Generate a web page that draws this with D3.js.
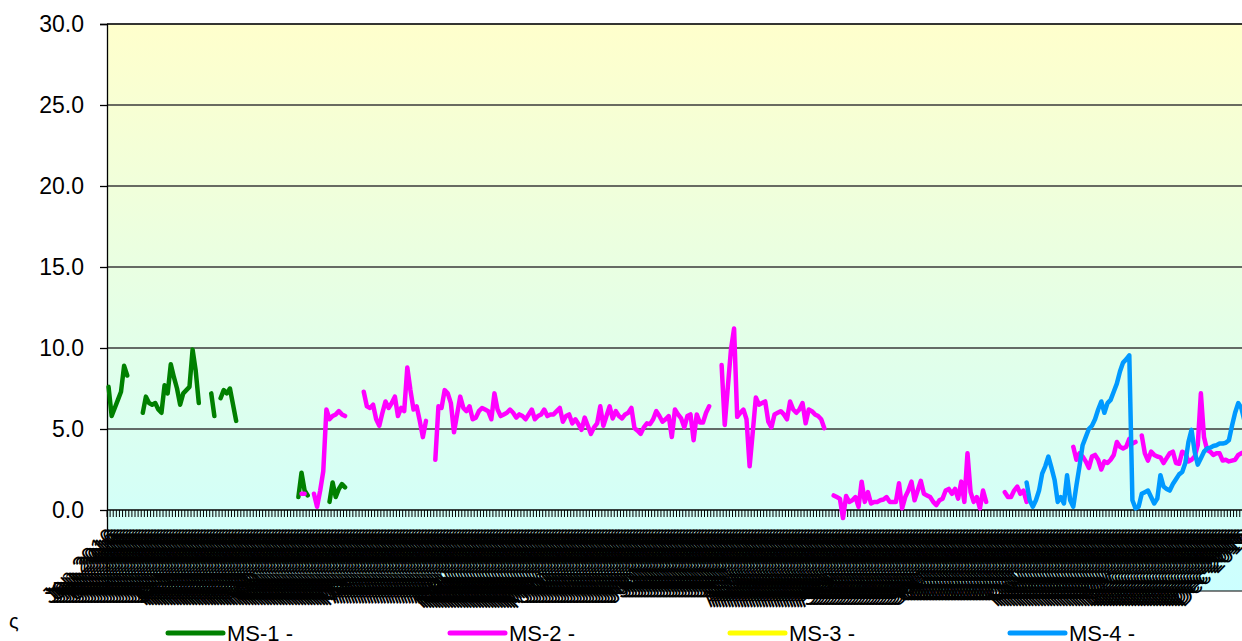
<!DOCTYPE html>
<html><head><meta charset="utf-8">
<script src="https://cdn.jsdelivr.net/npm/d3@7"></script>
<style>body{margin:0;background:#fff;overflow:hidden} svg{display:block} text{font-family:"Liberation Sans",Arial,sans-serif}</style>
</head><body><svg id="c" width="1242" height="641"></svg>
<script>
const _ = null;
const seriesNames = ["MS-1 -", "MS-2 -", "MS-3 -", "MS-4 -"];
const seriesColors = ["#008000", "#FF00FF", "#FFFF00", "#0099FF"];
const yTicks = [-5, 0, 5, 10, 15, 20, 25, 30];
const yTickLabels = ["-5.0", "0.0", "5.0", "10.0", "15.0", "20.0", "25.0", "30.0"];
const days = d3.timeDays(new Date(2016, 0, 1), new Date(2017, 0, 1));
const categories = days.map(d3.timeFormat("%Y-%m-%d"));
const tickLabels = days.map(d3.timeFormat("%b %Y"));

const ms1 = [7.6,5.8,6.3,6.8,7.3,8.9,8.3, _,_,_,_,
  6.0,7.0,6.6,6.5,6.6,6.2,6.0,7.7,7.2,9.0,8.2,7.5,6.5,7.2,7.4,7.6,9.9,8.6,6.6,
  _,_,_, 7.2,5.8, _, 6.9,7.4,7.2,7.5,6.5,5.5,
  ...Array(19).fill(_),
  0.8,2.3,1.2,0.9, _,_,_,_,_,_,
  0.5,1.7,0.8,1.3,1.6,1.4];

const ms2 = [...Array(62).fill(_),
  1.0,1.0, _,_,
  1.0,0.2,1.2,2.4,6.2,5.6,5.8,5.9,6.1,5.9,5.8,
  _,_,_,_,_,
  7.3,6.4,6.3,6.5,5.6,5.2,6.0,6.7,6.3,6.6,7.0,5.8,6.3,6.1,8.8,7.4,6.2,6.4,5.5,4.5,5.5,
  _,_,
  3.1,6.4,6.3,7.4,7.2,6.6,4.8,5.9,7.0,6.3,6.1,6.4,5.6,5.7,6.1,6.3,6.2,6.1,5.6,7.2,
  6.2,5.8,5.9,6.0,6.2,6.0,5.7,5.9,5.8,5.6,5.9,6.2,5.6,5.8,5.9,6.2,5.8,5.9,5.9,6.1,
  6.3,5.45,5.8,5.9,5.35,5.6,5.3,4.95,5.7,5.2,4.7,5.1,5.35,6.4,5.2,5.8,6.4,5.65,6.1,5.8,
  5.65,5.9,6.0,6.3,5.05,4.9,4.7,5.1,5.35,5.3,5.6,6.1,5.8,5.45,5.6,5.8,4.5,6.2,5.9,5.65,
  5.1,5.8,5.9,4.3,5.9,5.4,5.4,6.0,6.4,
  _,_,_,
  8.95,5.25,7.6,9.9,11.2,5.75,6.0,6.2,5.6,2.7,4.8,6.95,6.5,6.6,6.7,5.45,5.1,5.9,6.0,6.1,
  5.9,5.6,6.7,6.2,6.0,6.2,6.6,5.35,6.2,6.1,5.9,5.8,5.6,5.05,
  _,_,
  0.9,0.8,0.7,-0.5,0.86,0.5,0.6,0.8,0.2,1.75,0.5,1.1,0.4,0.5,0.5,0.6,0.65,0.8,0.5,0.5,
  0.5,1.65,0.1,0.8,1.2,1.75,0.6,1.2,1.8,1.0,0.9,0.8,0.5,0.3,0.6,0.7,1.2,1.3,1.0,1.3,
  0.7,1.75,0.5,3.5,1.1,0.5,0.8,0.1,1.2,0.5,
  _,_,_,_,_,
  1.1,0.8,0.8,1.2,1.45,1.0,1.2,0.5,
  ...Array(14).fill(_),
  3.9,3.1,3.5,3.3,3.0,2.6,3.3,3.4,3.1,2.5,3.0,2.9,3.1,3.4,4.2,3.9,3.8,3.9,4.4,4.1,4.2,
  _,
  4.6,3.5,3.05,3.6,3.4,3.3,3.25,2.9,3.2,3.5,3.6,2.9,2.85,3.6,3.5,3.0,3.1,3.3,4.0,7.2,
  4.5,3.7,3.6,3.4,3.5,3.5,3.05,3.1,3.0,3.05,3.1,3.4,3.5,3.6];

const ms3 = [];

const ms4 = [...Array(295).fill(_),
  1.7,0.6,0.2,0.6,1.2,2.25,2.7,3.3,2.6,1.85,
  0.5,0.8,0.4,2.15,0.6,0.2,1.5,2.7,4.0,4.5,
  5.0,5.2,5.6,6.2,6.7,6.0,6.6,6.8,7.3,7.8,
  8.55,9.1,9.3,9.55,0.6,0.1,0.2,1.0,1.1,1.2,
  0.8,0.4,0.7,2.15,1.45,1.3,1.2,1.6,1.9,2.2,
  2.35,2.9,4.2,4.95,3.6,2.8,3.2,3.6,3.8,3.85,
  3.95,4.0,4.1,4.1,4.15,4.3,5.2,6.0,6.6,6.3,5.5];

const seriesValues = [ms1, ms2, ms3, ms4];

const svg = d3.select("#c");
const L = 107, T = 24, R = 1246, B = 591;

const x = d3.scaleBand().domain(categories).range([L, R]).padding(0);
const y = d3.scaleLinear().domain([-5, 30]).range([B, T]);

const defs = svg.append("defs");
const grad = defs.append("linearGradient").attr("id", "bg").attr("x1", 0).attr("y1", 0).attr("x2", 0).attr("y2", 1);
grad.append("stop").attr("offset", "0%").attr("stop-color", "#FFFFCC");
grad.append("stop").attr("offset", "100%").attr("stop-color", "#CCFFFF");

svg.append("rect").attr("x", L).attr("y", T).attr("width", R - L).attr("height", B - T).attr("fill", "url(#bg)");

// gridlines
svg.append("g").selectAll("line").data(yTicks.filter(v => v > 0)).join("line")
  .attr("x1", L).attr("x2", R).attr("y1", d => y(d)).attr("y2", d => y(d))
  .attr("stroke", "#3a3a3a").attr("stroke-width", 1.4);

// plot border
svg.append("line").attr("x1", L).attr("x2", R).attr("y1", B).attr("y2", B).attr("stroke", "#000").attr("stroke-width", 1.2);
svg.append("line").attr("x1", L).attr("x2", R).attr("y1", T).attr("y2", T).attr("stroke", "#000").attr("stroke-width", 1.2);

// y axis
const yAxis = d3.axisLeft(y).tickValues(yTicks).tickFormat((d, i) => yTickLabels[i]).tickSize(7).tickPadding(16);
const gy = svg.append("g").attr("transform", `translate(${L},0)`).call(yAxis);
gy.select(".domain").attr("stroke", "#000").attr("stroke-width", 1.3);
gy.selectAll(".tick line").attr("stroke", "#000").attr("stroke-width", 1.3);
gy.selectAll(".tick text").attr("font-size", 23).attr("fill", "#000").attr("font-family", "Liberation Sans, Arial, sans-serif");

// x axis labels (rotated, one per category)
const lab = svg.append("g");
lab.selectAll("text").data(categories).join("text")
  .attr("transform", d => `translate(${x(d) + x.bandwidth() / 2 + 9},${y(0) + 28}) rotate(-45)`)
  .attr("text-anchor", "end")
  .attr("font-size", 23)
  .attr("fill", "#000")
  .text((d, i) => tickLabels[i]);

// x axis line + ticks
const y0 = y(0);
svg.append("line").attr("x1", L).attr("x2", R).attr("y1", y0).attr("y2", y0).attr("stroke", "#000").attr("stroke-width", 1.5);
const bounds = categories.map(c => x(c)).concat([x.range()[1]]);
svg.append("g").selectAll("line").data(bounds).join("line")
  .attr("x1", d => d).attr("x2", d => d).attr("y1", y0).attr("y2", y0 + 7)
  .attr("stroke", "#000").attr("stroke-width", 1);

// series lines
const line = d3.line()
  .defined(d => d.v != null)
  .x(d => x(d.c) + x.bandwidth() / 2)
  .y(d => y(d.v));
seriesValues.forEach((vals, si) => {
  const data = categories.map((c, i) => ({ c, v: vals[i] == null ? null : vals[i] }));
  svg.append("path").datum(data)
    .attr("fill", "none").attr("stroke", seriesColors[si]).attr("stroke-width", 4.5)
    .attr("stroke-linejoin", "round").attr("stroke-linecap", "round")
    .attr("d", line);
});

// stray glyph at left bottom
svg.append("text").attr("x", 9).attr("y", 628).attr("font-size", 20).attr("fill", "#000").text("ς");

// legend
const legX = [168, 450, 730, 1010];
const lg = svg.append("g");
seriesNames.forEach((n, i) => {
  lg.append("line").attr("x1", legX[i]).attr("x2", legX[i] + 55).attr("y1", 633).attr("y2", 633)
    .attr("stroke", seriesColors[i]).attr("stroke-width", 5).attr("stroke-linecap", "round");
  lg.append("text").attr("x", legX[i] + 59).attr("y", 641).attr("font-size", 22).attr("fill", "#000").text(n);
});
</script></body></html>
